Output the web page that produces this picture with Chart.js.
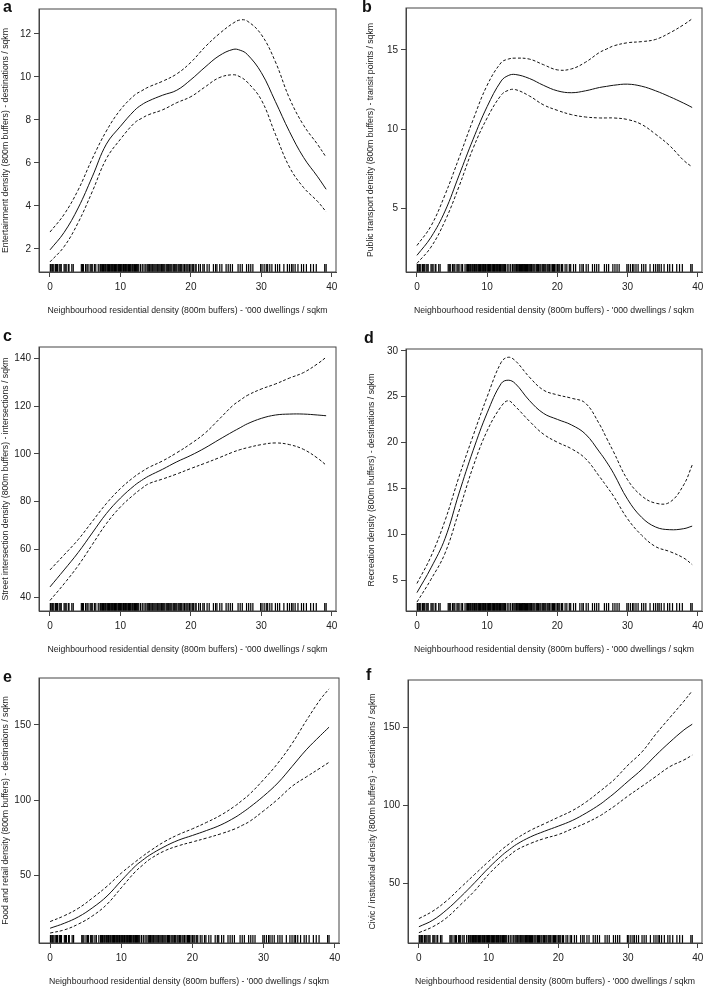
<!DOCTYPE html>
<html>
<head>
<meta charset="utf-8">
<script src="https://cdn.jsdelivr.net/npm/chart.js@4"></script>
<style>
  body { margin: 0; background: #fff; width: 708px; height: 986px; position: relative; overflow: hidden;
         font-family: "Liberation Sans", Arial, sans-serif; }
  .panel { position: absolute; }
  .tag { position: absolute; font-weight: bold; font-size: 16px; line-height: 16px; color: #111; }
</style>
</head>
<body>
<script>
const xs = [0, 2, 4, 6, 8, 10, 12, 13, 14, 16, 18, 20, 22, 24, 26, 27, 28, 30, 32, 34, 36, 38, 39.2];
const xTicks = [0, 10, 20, 30, 40];

// rug: observed residential densities
const rug = [0.05, 0.15, 0.3, 0.4, 0.55, 0.8, 0.9, 1.05, 1.3, 1.45, 1.6, 2.0, 2.15, 2.3, 2.6, 2.7, 3.1, 3.3,
  4.45, 4.6, 4.75, 5.05, 5.25, 5.4, 5.7, 5.85, 6.0, 6.3, 6.5, 6.85,
  7.1, 7.2, 7.35, 7.45, 7.6, 7.7, 7.85, 7.95, 8.1, 8.2, 8.3, 8.45, 8.55, 8.7, 8.8, 8.9, 9.05, 9.15,
  9.3, 9.4, 9.5, 9.65, 9.75, 9.85, 10.0, 10.1, 10.2, 10.35, 10.45, 10.55, 10.7, 10.8, 10.9, 11.05,
  11.15, 11.3, 11.4, 11.5, 11.65, 11.75, 11.9, 12.0, 12.15, 12.3, 12.45, 12.6,
  12.85, 13.1, 13.35, 13.6,
  13.8, 13.95, 14.1, 14.2, 14.35, 14.5, 14.6, 14.75, 14.9, 15.05, 15.2, 15.3, 15.45, 15.6, 15.75,
  15.85, 16.0, 16.15, 16.3, 16.5, 16.65, 16.8, 17.0, 17.15, 17.3, 17.5, 17.65, 17.85, 18.0, 18.2,
  18.35, 18.55, 18.7, 18.9, 19.1, 19.3, 19.45, 19.6, 19.8, 20.0, 20.2, 20.35, 20.6, 20.75,
  21.1, 21.35, 21.7, 21.9, 22.3, 22.6, 23.2, 23.5, 23.7, 24.1, 24.4, 25.0, 25.3, 25.6,
  25.9, 26.7, 27.0, 27.3, 27.9, 28.2, 28.5, 28.8,
  29.9, 30.1, 30.4, 30.7, 30.9, 31.2, 31.5, 32.0, 32.3, 32.6, 33.2, 33.7, 34.0,
  34.3, 34.5, 34.8, 35.2, 35.7, 36.0, 36.4, 37.0, 37.4, 37.8,
  39.0, 39.2];

// a - entertainment
const aFit = [1.95, 2.76, 3.9, 5.35, 6.87, 7.7, 8.44, 8.7, 8.88, 9.15, 9.38, 9.87, 10.45, 10.98, 11.28, 11.24, 11.05, 10.2, 8.85, 7.45, 6.25, 5.35, 4.77];
const aUp  = [2.78, 3.6, 4.74, 6.19, 7.48, 8.47, 9.15, 9.35, 9.53, 9.8, 10.14, 10.68, 11.39, 12.0, 12.5, 12.65, 12.6, 11.97, 10.7, 9.0, 7.75, 6.85, 6.26];
const aLow = [1.39, 2.1, 3.22, 4.66, 6.19, 7.1, 7.86, 8.07, 8.24, 8.47, 8.8, 9.08, 9.53, 9.96, 10.1, 10.0, 9.76, 8.93, 7.33, 5.8, 4.85, 4.2, 3.72];
const aTicks = [2, 4, 6, 8, 10, 12];

// b - public transport
const bFit = [2.05, 3.19, 4.84, 7.1, 9.37, 11.43, 13.04, 13.38, 13.45, 13.2, 12.77, 12.42, 12.3, 12.42, 12.63, 12.7, 12.77, 12.84, 12.71, 12.42, 12.05, 11.64, 11.37];
const bUp  = [2.67, 3.9, 5.87, 8.2, 10.6, 12.77, 14.2, 14.42, 14.48, 14.42, 14.07, 13.74, 13.8, 14.22, 14.84, 15.05, 15.25, 15.45, 15.52, 15.66, 16.07, 16.59, 16.96];
const bLow = [1.54, 2.57, 4.22, 6.4, 8.8, 10.71, 12.15, 12.45, 12.5, 12.1, 11.54, 11.19, 10.92, 10.77, 10.71, 10.71, 10.71, 10.61, 10.3, 9.68, 8.96, 8.03, 7.62];
const bTicks = [5, 10, 15];

// c - street intersections
const cFit = [44.3, 51.4, 58.7, 66.9, 75.0, 81.5, 86.8, 88.9, 90.7, 93.6, 96.7, 99.4, 102.5, 106.0, 109.4, 111.0, 112.6, 114.9, 116.3, 116.7, 116.7, 116.3, 116.0];
const cUp  = [51.4, 57.7, 64.1, 71.7, 79.2, 85.5, 90.5, 92.5, 94.3, 97.1, 100.5, 104.3, 108.7, 114.5, 120.4, 122.5, 124.5, 127.2, 129.3, 131.8, 134.1, 137.8, 140.5];
const cLow = [38.6, 45.6, 53.2, 62.0, 70.8, 77.8, 83.2, 85.5, 87.5, 89.5, 91.6, 93.9, 96.1, 98.4, 100.8, 101.8, 102.6, 103.9, 104.6, 103.9, 101.9, 98.2, 95.3];
const cTicks = [40, 60, 80, 100, 120, 140];

// d - recreation
const dFit = [3.65, 6.35, 9.55, 14.5, 19.15, 23.24, 26.44, 26.8, 26.44, 24.6, 23.2, 22.53, 21.93, 20.93, 18.98, 17.9, 16.66, 13.82, 11.86, 10.8, 10.51, 10.62, 10.9];
const dUp  = [4.65, 7.6, 11.51, 16.3, 20.75, 25.0, 28.75, 29.3, 28.93, 27.15, 25.73, 25.2, 24.84, 24.3, 22.0, 20.5, 19.0, 15.95, 14.2, 13.4, 13.5, 15.4, 17.55];
const dLow = [2.62, 5.1, 7.95, 12.57, 17.38, 21.29, 23.95, 24.56, 23.95, 22.35, 20.93, 20.04, 19.33, 18.26, 16.3, 15.25, 14.17, 11.69, 9.91, 8.66, 8.13, 7.42, 6.71];
const dTicks = [5, 10, 15, 20, 25, 30];

// e - food and retail
const eFit = [15.2, 18.5, 22.8, 28.9, 36.5, 46.7, 56.5, 60.3, 63.7, 69.1, 73.5, 76.7, 80.0, 83.7, 88.7, 91.8, 95.2, 102.8, 111.5, 122.4, 133.5, 143.0, 148.5];
const eUp  = [19.6, 23.5, 28.5, 35.4, 43.0, 51.7, 59.3, 62.9, 66.3, 72.4, 77.2, 81.1, 85.4, 90.2, 96.3, 100.0, 103.9, 113.7, 124.6, 137.6, 152.8, 167.0, 173.9];
const eLow = [12.0, 14.1, 18.0, 23.5, 31.1, 42.0, 52.8, 57.0, 60.9, 66.3, 69.8, 72.4, 75.0, 77.8, 81.1, 83.4, 85.9, 93.0, 100.7, 109.3, 115.5, 121.5, 125.2];
const eTicks = [50, 100, 150];

// f - civic / institutional
const fFit = [22.4, 26.6, 33.3, 41.6, 50.6, 60.0, 68.4, 71.9, 75.1, 79.9, 83.5, 86.8, 90.4, 95.2, 100.8, 104.2, 107.7, 115.5, 123.2, 132.2, 140.6, 148.3, 152.0];
const fUp  = [27.6, 32.4, 39.1, 47.5, 55.9, 64.2, 72.2, 75.6, 78.9, 84.1, 88.3, 92.5, 96.7, 102.3, 109.2, 112.8, 116.5, 125.9, 134.3, 145.8, 156.3, 166.7, 173.4];
const fLow = [18.6, 22.4, 28.2, 36.6, 45.4, 55.9, 64.6, 68.1, 71.5, 75.7, 78.9, 81.4, 85.1, 88.9, 93.5, 96.4, 99.4, 106.1, 112.3, 118.6, 124.9, 129.1, 132.2];
const fTicks = [50, 100, 150];

const xTitle = "Neighbourhood residential density (800m buffers) - '000 dwellings / sqkm";

// box = plot frame [left, top, right, bottom] on the page
const panels = [
  { tag: 'a', col: 0,   box: [39, 4, 336, 272],   ylim: [0.92, 13.16], ticks: aTicks, fit: aFit, up: aUp, low: aLow,
    title: 'Entertainment density (800m buffers) - destinations / sqkm', tpad: 0, tagPos: [3, -1] },
  { tag: 'b', col: 354, box: [406, 3, 702, 272],  ylim: [1.0, 17.64], ticks: bTicks, fit: bFit, up: bUp, low: bLow,
    title: 'Public transport density (800m buffers) - transit points / sqkm', tpad: 11, tagPos: [362, -1] },
  { tag: 'c', col: 0,   box: [39, 342, 336, 611], ylim: [34.2, 144.8], ticks: cTicks, fit: cFit, up: cUp, low: cLow,
    title: 'Street intersection density (800m buffers) - intersections / sqkm', tpad: 0, tagPos: [3, 328] },
  { tag: 'd', col: 354, box: [406, 344, 702, 611], ylim: [1.65, 30.2], ticks: dTicks, fit: dFit, up: dUp, low: dLow,
    title: 'Recreation density (800m buffers) - destinations / sqkm', tpad: 12, tagPos: [364, 330] },
  { tag: 'e', col: 0,   box: [39, 673, 339, 943], ylim: [5.4, 181.1], ticks: eTicks, fit: eFit, up: eUp, low: eLow,
    title: 'Food and retail density (800m buffers) - destinations / sqkm', tpad: 0, tagPos: [3, 669] },
  { tag: 'f', col: 354, box: [408, 675, 702, 943], ylim: [12.0, 180.3], ticks: fTicks, fit: fFit, up: fUp, low: fLow,
    title: 'Civic / instutional density (800m buffers) - destinations / sqkm', tpad: 13, tagPos: [366, 667] }
];

const frame = {
  id: 'frame',
  afterDraw(chart) {
    const a = chart.chartArea, ctx = chart.ctx;
    ctx.save();
    ctx.strokeStyle = '#444';
    ctx.lineWidth = 1;
    ctx.strokeRect(a.left, a.top, a.right - a.left, a.bottom - a.top);
    ctx.restore();
  }
};

Chart.defaults.font.family = '"Liberation Sans", Arial, sans-serif';
Chart.defaults.color = '#222';

panels.forEach(p => {
  const [L, T, R, B] = p.box;
  const w = 354, h = B - T + 4 + 46;
  const div = document.createElement('div');
  div.className = 'panel';
  div.style.left = p.col + 'px';
  div.style.top = (T - 4) + 'px';
  div.style.width = w + 'px';
  div.style.height = h + 'px';
  const cv = document.createElement('canvas');
  cv.width = w; cv.height = h;
  div.appendChild(cv);
  document.body.appendChild(div);

  const tag = document.createElement('div');
  tag.className = 'tag';
  tag.textContent = p.tag;
  tag.style.left = p.tagPos[0] + 'px';
  tag.style.top = p.tagPos[1] + 'px';
  document.body.appendChild(tag);

  const pts = arr => xs.map((x, i) => ({ x: x, y: arr[i] }));
  const rugY = p.ylim[0] + 0.015 * (p.ylim[1] - p.ylim[0]);
  const curve = (arr, dash) => ({
    data: pts(arr), showLine: true, borderColor: '#111', borderWidth: 1,
    borderDash: dash, pointRadius: 0, tension: 0.4
  });

  new Chart(cv, {
    type: 'scatter',
    data: {
      datasets: [
        curve(p.fit, []),
        curve(p.up, [3, 2]),
        curve(p.low, [3, 2]),
        { data: rug.map(x => ({ x: x, y: rugY })), showLine: false, pointStyle: 'line',
          pointRotation: 90, pointRadius: 4, pointBorderColor: '#000', pointBorderWidth: 1.2 }
      ]
    },
    options: {
      responsive: false,
      animation: false,
      events: [],
      layout: { padding: { left: 0, top: 4, right: p.col + w - R, bottom: 0 } },
      plugins: { legend: { display: false }, tooltip: { enabled: false } },
      scales: {
        x: {
          type: 'linear', min: -1.56, max: 40.6,
          afterBuildTicks: s => { s.ticks = xTicks.map(v => ({ value: v })); },
          afterFit: s => { s.height = 46; },
          grid: { drawOnChartArea: false, drawTicks: true, tickLength: 5, color: '#444' },
          border: { color: '#444' },
          ticks: { font: { size: 10 }, padding: 4, maxRotation: 0, autoSkip: false },
          title: { display: true, text: xTitle, font: { size: 8.7 }, padding: { top: 0, bottom: 2 } }
        },
        y: {
          type: 'linear', min: p.ylim[0], max: p.ylim[1],
          afterBuildTicks: s => { s.ticks = p.ticks.map(v => ({ value: v })); },
          afterFit: s => { s.width = L - p.col; },
          grid: { drawOnChartArea: false, drawTicks: true, tickLength: 5, color: '#444' },
          border: { color: '#444' },
          ticks: { font: { size: 10 }, padding: 3, autoSkip: false },
          title: { display: true, text: p.title, font: { size: 8.7 }, padding: { top: p.tpad, bottom: 0 } }
        }
      }
    },
    plugins: [frame]
  });
});
</script>
</body>
</html>
